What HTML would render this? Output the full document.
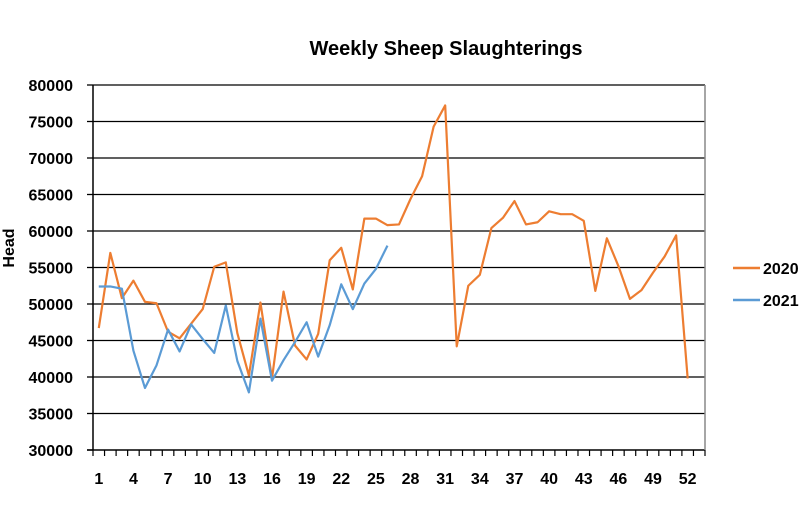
<!DOCTYPE html>
<html><head><meta charset="utf-8"><style>
body{margin:0;background:#fff;}
svg text{font-family:"Liberation Sans",Arial,sans-serif;font-weight:bold;fill:#000;}
</style></head><body>
<svg id="chart" width="809" height="505" xmlns="http://www.w3.org/2000/svg">
<text x="446" y="55" font-size="20" text-anchor="middle">Weekly Sheep Slaughterings</text>
<text transform="translate(14,248) rotate(-90)" font-size="16" text-anchor="middle">Head</text>
<g id="grid"></g><g id="axes"></g><g id="series"></g>
<line x1="705" y1="85" x2="705" y2="450" stroke="#888" stroke-width="1.5"/>
<line x1="733" y1="268" x2="760" y2="268" stroke="#ED7D31" stroke-width="2.5"/>
<text x="763" y="274" font-size="16">2020</text>
<line x1="733" y1="300" x2="760" y2="300" stroke="#5B9BD5" stroke-width="2.5"/>
<text x="763" y="306" font-size="16">2021</text>
</svg>
<script>
const yTicks=[30000,35000,40000,45000,50000,55000,60000,65000,70000,75000,80000];
const weeks=Array.from({length:52},(_,i)=>i+1);
const s2020=[46700,57000,50800,53200,50300,50100,46200,45300,47300,49300,55100,55700,46000,40200,50200,39800,51700,44300,42400,45900,56000,57700,52000,61700,61700,60800,60900,64400,67500,74300,77200,44200,52500,54000,60400,61800,64100,60900,61200,62700,62300,62300,61400,51800,59000,55200,50700,51900,54300,56500,59400,39800];
const s2021=[52400,52400,52100,43600,38500,41600,46500,43500,47200,45200,43300,49800,42200,37900,48000,39500,42300,44800,47500,42800,47100,52700,49300,52800,54800,58000];
const NS="http://www.w3.org/2000/svg";
const x0=93,x1=705,yTop=85,yBot=450,yMin=30000,yMax=80000;
const step=(x1-x0)/53;
const X=w=>x0+step*(w-0.5);
const Y=v=>yBot-(v-yMin)/(yMax-yMin)*(yBot-yTop);
function mk(tag,attrs,parent){const e=document.createElementNS(NS,tag);for(const k in attrs)e.setAttribute(k,attrs[k]);document.getElementById(parent).appendChild(e);return e;}
yTicks.forEach(v=>{
  if(v>yMin){const g=mk('line',{x1:x0,x2:x1,y1:Y(v),y2:Y(v),stroke:'#000','stroke-width':1.3},'grid');
  
  }
  const t=mk('line',{x1:x0-6,x2:x0,y1:Y(v),y2:Y(v),stroke:'#000','stroke-width':1.3},'axes');
  
  
  const l=mk('text',{x:73,y:Y(v)+6,'font-size':16,'text-anchor':'end'},'axes');
  l.textContent=v;
  
  
});
const ax=mk('line',{x1:x0,x2:x0,y1:yTop,y2:yBot,stroke:'#000','stroke-width':1.5},'axes');


const bx=mk('line',{x1:x0-6,x2:x1,y1:yBot,y2:yBot,stroke:'#000','stroke-width':1.5},'axes');


for(let k=0;k<=53;k++){
  const t=mk('line',{x1:x0+k*step,x2:x0+k*step,y1:yBot,y2:yBot+6,stroke:'#000','stroke-width':1.2},'axes');
  
  
}
weeks.forEach(w=>{if((w-1)%3===0){
  const l=mk('text',{x:X(w),y:484,'font-size':16,'text-anchor':'middle'},'axes');
  l.textContent=w;
  
  
}});
function line(data,color,name){
  const p=mk('polyline',{points:data.map((v,i)=>X(weeks[i])+','+Y(v)).join(' '),fill:'none',stroke:color,'stroke-width':2.2,'stroke-linejoin':'round'},'series');
  
  
}
line(s2020,'#ED7D31','series-2020-line');
line(s2021,'#5B9BD5','series-2021-line');
</script>
</body></html>
